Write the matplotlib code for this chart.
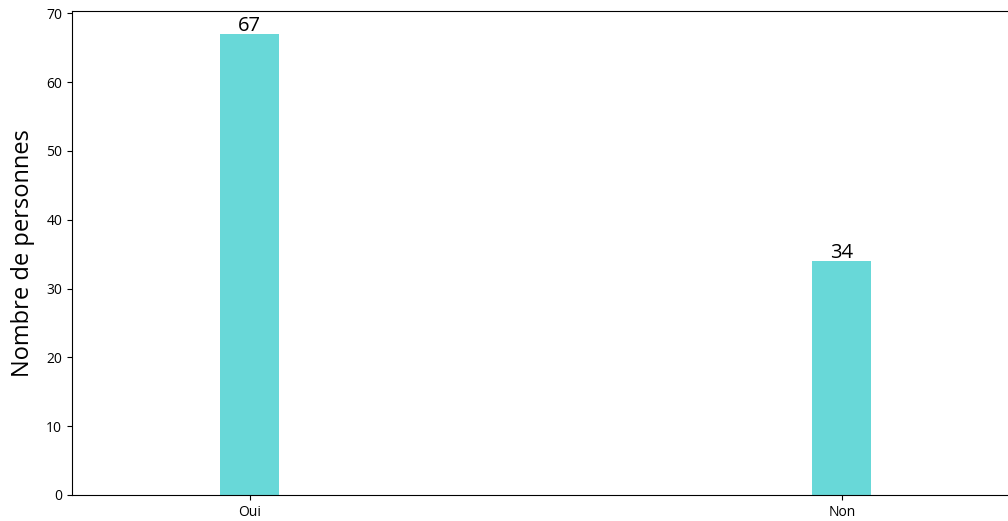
import matplotlib.pyplot as plt

reponses = ['Oui', 'Non']
nombres = [67, 34]

plt.rcParams['font.family'] = ['Open Sans', 'DejaVu Sans']

fig = plt.figure(figsize=(10.08, 5.21), dpi=100)
# axes run past the right edge, as in the reference crop
ax = fig.add_axes([0.0714, 0.05, 0.94, 0.929])

bars = ax.bar(reponses, nombres, width=0.1, color='#68d8d8')
for b, v in zip(bars, nombres):
    ax.text(b.get_x() + b.get_width() / 2, v - 0.3, str(v),
            ha='center', va='bottom', fontsize=14.5)

ax.set_xlim(-0.3, 1.3)
ax.set_ylabel('Nombre de personnes', fontsize=17, labelpad=8)
ax.tick_params(labelsize=10)

fig.savefig('out.png', dpi=100)
